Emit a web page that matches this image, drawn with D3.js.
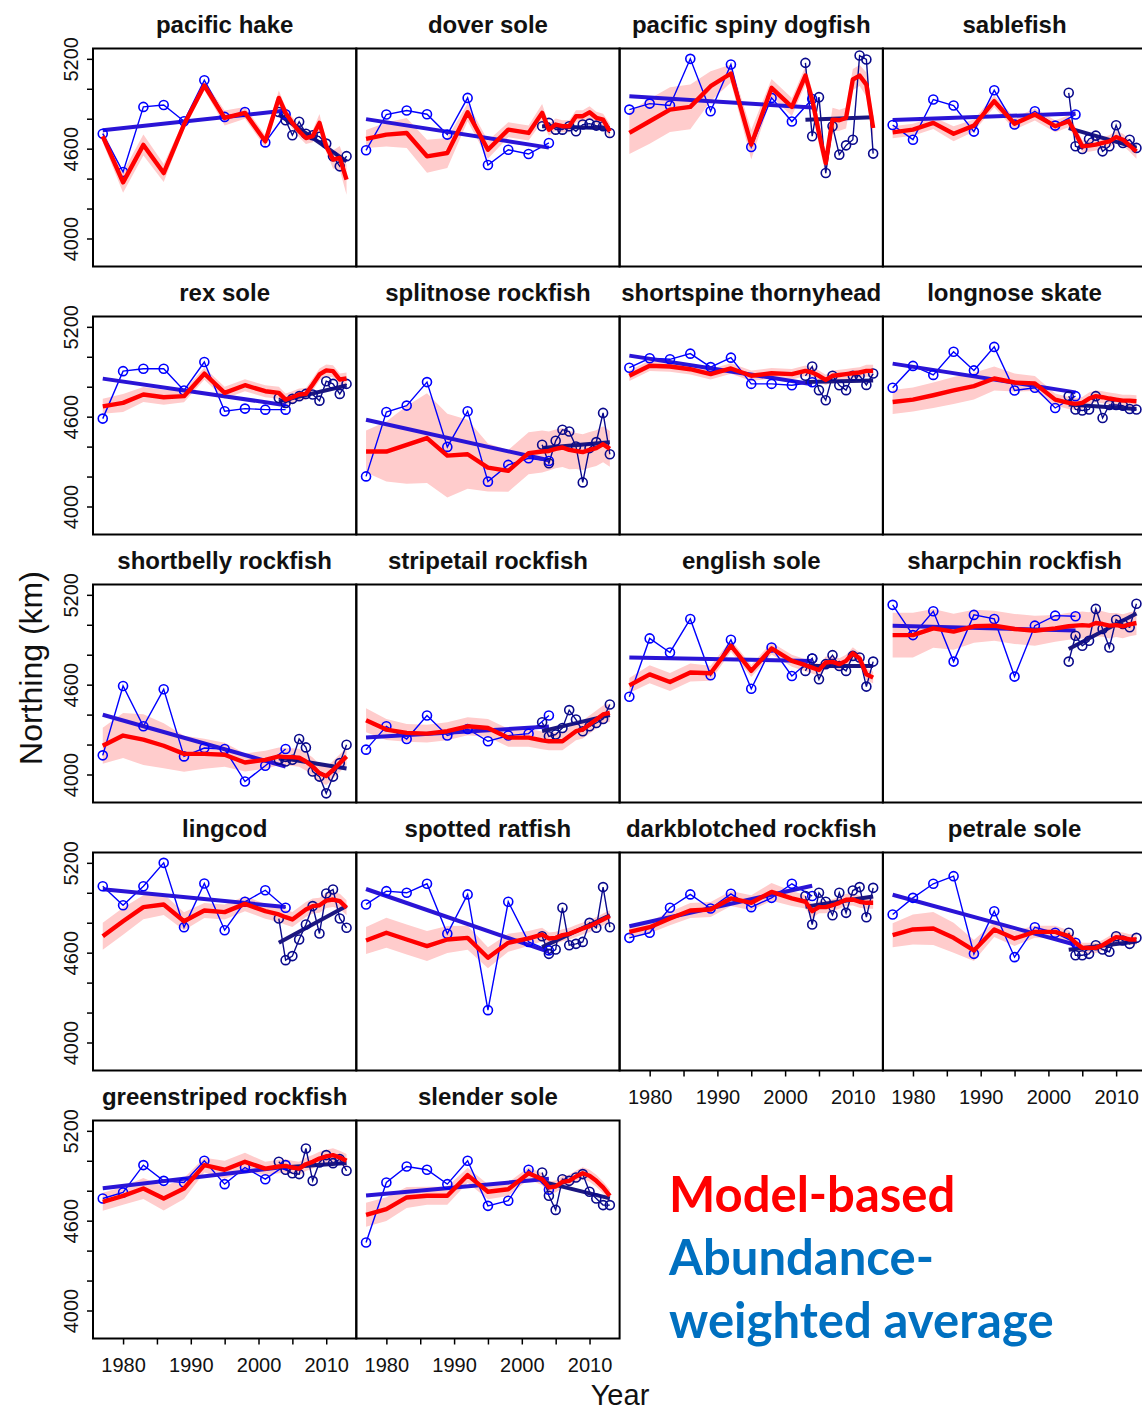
<!DOCTYPE html>
<html>
<head>
<meta charset="utf-8">
<script src="https://cdnjs.cloudflare.com/ajax/libs/d3/7.8.5/d3.min.js"></script>
<style>
  body { margin: 0; background: #fff; }
  svg { display: block; }
</style>
</head>
<body>
<svg id="chart" width="1142" height="1411"></svg>
<script>
// Species shown, one panel each (row-major, 4 per row)
const species = [
  "pacific hake", "dover sole", "pacific spiny dogfish", "sablefish",
  "rex sole", "splitnose rockfish", "shortspine thornyhead", "longnose skate",
  "shortbelly rockfish", "stripetail rockfish", "english sole", "sharpchin rockfish",
  "lingcod", "spotted ratfish", "darkblotched rockfish", "petrale sole",
  "greenstriped rockfish", "slender sole"
];

// Survey years
const triennialYears = [1977, 1980, 1983, 1986, 1989, 1992, 1995, 1998, 2001, 2004];
const annualYears = [2003, 2004, 2005, 2006, 2007, 2008, 2009, 2010, 2011, 2012, 2013];
const modelYears = [1977, 1980, 1983, 1986, 1989, 1992, 1995, 1998, 2001,
                    2003, 2004, 2005, 2006, 2007, 2008, 2009, 2010, 2011, 2012, 2013];

// Abundance-weighted average northing (km), triennial survey
const triennialNorthing = [
  [4700, 4444, 4879, 4892, 4783, 5057, 4812, 4845, 4642, 4830],
  [4589, 4828, 4855, 4830, 4694, 4939, 4491, 4593, 4564, 4638],
  [4861, 4901, 4888, 5200, 4850, 5162, 4611, 4939, 4781, 4932],
  [4758, 4660, 4928, 4888, 4714, 4990, 4761, 4850, 4754, 4828],
  [4587, 4904, 4920, 4920, 4775, 4965, 4636, 4654, 4647, 4647],
  [4201, 4631, 4674, 4831, 4398, 4636, 4166, 4278, 4322, 4304],
  [4927, 4990, 4983, 5021, 4931, 4994, 4819, 4819, 4810, 4830],
  [4793, 4939, 4879, 5034, 4909, 5066, 4775, 4793, 4658, 4737],
  [4128, 4591, 4322, 4569, 4121, 4177, 4170, 3953, 4058, 4170],
  [4166, 4322, 4237, 4394, 4260, 4304, 4222, 4260, 4273, 4394],
  [4519, 4909, 4815, 5039, 4663, 4900, 4573, 4848, 4658, 4775],
  [5133, 4931, 5090, 4754, 5066, 5039, 4654, 4994, 5061, 5057],
  [5044, 4917, 5044, 5200, 4770, 5062, 4750, 4940, 5017, 4900],
  [4922, 5011, 5000, 5060, 4726, 4989, 4216, 4940, 4672, 4615],
  [4699, 4733, 4900, 4989, 4895, 4993, 4904, 4966, 5060, 4978],
  [4855, 4966, 5060, 5111, 4592, 4877, 4570, 4770, 4733, 4666],
  [4748, 4788, 4971, 4866, 4855, 5000, 4844, 4955, 4877, 4971],
  [4454, 4855, 4962, 4940, 4844, 5000, 4699, 4733, 4940, 4806]
];

// Abundance-weighted average northing (km), annual survey
const annualNorthing = [
  [4845, 4790, 4690, 4780, 4700, 4690, 4680, 4634, 4549, 4482, 4550],
  [4750, 4772, 4727, 4727, 4750, 4716, 4761, 4767, 4754, 4750, 4705],
  [5173, 4683, 4944, 4437, 4750, 4560, 4622, 4660, 5222, 5196, 4567],
  [4973, 4616, 4598, 4665, 4687, 4582, 4616, 4756, 4638, 4660, 4605],
  [4725, 4692, 4719, 4737, 4752, 4748, 4707, 4837, 4819, 4752, 4819],
  [4412, 4289, 4439, 4513, 4501, 4401, 4161, 4390, 4430, 4625, 4349],
  [4873, 4935, 4777, 4710, 4873, 4810, 4777, 4873, 4873, 4812, 4888],
  [4737, 4648, 4641, 4648, 4737, 4591, 4678, 4678, 4673, 4651, 4648],
  [4099, 4087, 4099, 4237, 4181, 4020, 3986, 3874, 3986, 4076, 4199],
  [4349, 4255, 4267, 4311, 4430, 4367, 4289, 4322, 4344, 4371, 4468],
  [4692, 4775, 4636, 4737, 4797, 4725, 4692, 4792, 4781, 4587, 4754],
  [4754, 4927, 4860, 4893, 5106, 4972, 4848, 5034, 5005, 4983, 5140],
  [4828, 4550, 4577, 4688, 4788, 4911, 4728, 4995, 5022, 4828, 4766],
  [4710, 4592, 4621, 4900, 4650, 4659, 4672, 4799, 4766, 5038, 4770],
  [4978, 4788, 5000, 4940, 4850, 5000, 4866, 5015, 5038, 4837, 5033],
  [4733, 4583, 4583, 4592, 4650, 4621, 4606, 4710, 4681, 4659, 4699],
  [4993, 4940, 4917, 4911, 5082, 4866, 4989, 5038, 4984, 5011, 4933],
  [4922, 4766, 4672, 4877, 4866, 4888, 4911, 4793, 4748, 4704, 4704]
];

// Model-based northing estimate (km)
const modelNorthing = [
  [4683, 4375, 4625, 4437, 4761, 5022, 4805, 4839, 4649, 4939, 4839, 4772, 4716, 4671, 4683, 4772, 4616, 4527, 4538, 4393],
  [4665, 4694, 4705, 4549, 4571, 4843, 4593, 4727, 4705, 4839, 4727, 4761, 4750, 4750, 4817, 4817, 4843, 4806, 4794, 4716],
  [4705, 4783, 4861, 4879, 5017, 5102, 4627, 5006, 4879, 5088, 4928, 4705, 4504, 4794, 4790, 4805, 5062, 5088, 5028, 4738],
  [4709, 4727, 4772, 4700, 4754, 4917, 4767, 4828, 4750, 4783, 4705, 4616, 4620, 4627, 4638, 4649, 4678, 4660, 4620, 4582],
  [4669, 4692, 4748, 4730, 4737, 4887, 4759, 4810, 4770, 4759, 4714, 4730, 4748, 4752, 4815, 4882, 4909, 4904, 4848, 4855],
  [4367, 4367, 4412, 4457, 4340, 4349, 4260, 4238, 4356, 4367, 4371, 4385, 4394, 4378, 4371, 4363, 4378, 4390, 4416, 4385],
  [4873, 4940, 4935, 4917, 4884, 4922, 4873, 4890, 4884, 4906, 4895, 4873, 4845, 4873, 4878, 4884, 4890, 4895, 4906, 4906],
  [4698, 4714, 4743, 4775, 4804, 4855, 4828, 4822, 4714, 4692, 4685, 4692, 4721, 4737, 4730, 4721, 4714, 4707, 4707, 4703],
  [4192, 4260, 4233, 4192, 4138, 4138, 4132, 4080, 4098, 4121, 4116, 4116, 4112, 4087, 4053, 4008, 3990, 4030, 4076, 4121],
  [4363, 4300, 4278, 4273, 4289, 4322, 4311, 4246, 4246, 4228, 4222, 4222, 4222, 4255, 4289, 4300, 4334, 4367, 4401, 4412],
  [4595, 4669, 4618, 4681, 4676, 4860, 4692, 4842, 4759, 4730, 4714, 4698, 4748, 4752, 4737, 4759, 4810, 4775, 4669, 4647],
  [4931, 4931, 4976, 4954, 4990, 4994, 4972, 4960, 4976, 4990, 4994, 4998, 4994, 5012, 5005, 4994, 4998, 4990, 5003, 5012],
  [4710, 4810, 4904, 4922, 4810, 4882, 4871, 4926, 4877, 4855, 4837, 4822, 4855, 4888, 4911, 4917, 4948, 4955, 4944, 4900],
  [4681, 4733, 4688, 4644, 4688, 4699, 4566, 4666, 4695, 4721, 4695, 4699, 4717, 4726, 4744, 4761, 4777, 4799, 4822, 4844],
  [4739, 4770, 4828, 4882, 4888, 4962, 4933, 5006, 4962, 4940, 4877, 4904, 4904, 4917, 4933, 4953, 4955, 4940, 4933, 4933],
  [4717, 4755, 4761, 4699, 4615, 4755, 4695, 4739, 4739, 4710, 4666, 4632, 4632, 4632, 4650, 4677, 4704, 4699, 4688, 4688],
  [4726, 4766, 4815, 4748, 4815, 4971, 4940, 4993, 4948, 4962, 4966, 4955, 4948, 4977, 4993, 5015, 5029, 5038, 5022, 5000],
  [4639, 4677, 4755, 4766, 4766, 4904, 4793, 4810, 4917, 4877, 4822, 4828, 4859, 4866, 4895, 4917, 4900, 4866, 4822, 4766]
];

// Half-width of the model-based interval (km)
const modelSE = [
  [40, 70, 70, 60, 30, 30, 50, 40, 40, 50, 40, 40, 40, 40, 40, 60, 40, 60, 80, 100],
  [60, 80, 100, 110, 100, 60, 60, 50, 50, 60, 40, 40, 40, 40, 40, 40, 40, 40, 40, 50],
  [140, 150, 150, 150, 100, 60, 100, 60, 60, 60, 60, 80, 80, 80, 70, 70, 70, 70, 80, 80],
  [40, 40, 40, 50, 40, 40, 40, 40, 40, 40, 40, 40, 40, 40, 40, 40, 40, 40, 40, 50],
  [50, 60, 50, 50, 40, 40, 40, 40, 40, 40, 40, 40, 40, 40, 40, 40, 40, 40, 40, 40],
  [140, 200, 260, 300, 280, 230, 160, 140, 140, 140, 130, 130, 130, 130, 120, 120, 120, 120, 120, 120],
  [35, 35, 35, 35, 35, 35, 35, 35, 35, 35, 35, 35, 35, 35, 35, 35, 35, 35, 40, 40],
  [80, 80, 85, 90, 90, 80, 60, 50, 40, 40, 40, 40, 40, 40, 40, 40, 40, 40, 40, 40],
  [120, 150, 170, 150, 120, 100, 80, 60, 60, 60, 60, 60, 60, 60, 60, 60, 60, 60, 60, 60],
  [80, 70, 60, 60, 60, 60, 60, 60, 60, 60, 60, 60, 60, 60, 60, 60, 60, 60, 60, 60],
  [50, 60, 60, 60, 50, 40, 40, 40, 40, 40, 40, 40, 40, 40, 40, 40, 40, 40, 40, 40],
  [150, 150, 130, 120, 110, 100, 100, 100, 90, 90, 90, 90, 90, 90, 85, 85, 80, 80, 80, 80],
  [90, 90, 80, 70, 60, 50, 50, 50, 50, 50, 50, 50, 50, 50, 50, 50, 50, 50, 50, 50],
  [90, 100, 100, 100, 90, 80, 70, 60, 50, 45, 40, 40, 40, 40, 40, 40, 40, 40, 40, 40],
  [40, 40, 45, 50, 50, 50, 50, 60, 50, 45, 45, 40, 40, 40, 40, 40, 40, 40, 40, 40],
  [80, 100, 110, 100, 70, 50, 50, 40, 40, 40, 35, 35, 35, 35, 35, 35, 35, 35, 35, 35],
  [60, 60, 70, 80, 70, 50, 60, 60, 45, 45, 45, 45, 45, 45, 45, 45, 45, 45, 45, 45],
  [80, 80, 70, 60, 60, 50, 50, 45, 40, 40, 40, 40, 40, 40, 40, 40, 40, 40, 40, 40]
];

// Axis ticks and labels
const xTickYears = [1980, 1985, 1990, 1995, 2000, 2005, 2010];
const xLabelYears = [1980, 1990, 2000, 2010];
const yTickValues = [4000, 4200, 4400, 4600, 4800, 5000, 5200];
const yLabelValues = [4000, 4600, 5200];

const legendLines = [
  { text: "Model-based", color: "#ff0000" },
  { text: "Abundance-", color: "#0070c0" },
  { text: "weighted average", color: "#0070c0" }
];

// ---- layout ----
const svg = d3.select("#chart");
const PW = 263.3, PH = 218;
const LEFT = 93, TOP = 48.5, ROW_PITCH = 268;
const FONT = "'Liberation Sans', Arial, Helvetica, sans-serif";

const x = d3.scaleLinear().domain([1975.56, 2014.44]).range([0, PW]);
const y = d3.scaleLinear().domain([3813, 5269]).range([PH, 0]);

const COL_TRI = "#0000ff";
const COL_ANN = "#0a0a8c";
const COL_TRI_TREND = "#2a14d6";
const COL_ANN_TREND = "#1b1680";
const COL_MODEL = "#ff0000";
const COL_BAND = "#ffcccc";

// ordinary least squares fit
function linFit(xs, ys) {
  const mx = d3.mean(xs), my = d3.mean(ys);
  let sxy = 0, sxx = 0;
  xs.forEach((v, k) => { sxy += (v - mx) * (ys[k] - my); sxx += (v - mx) * (v - mx); });
  const b = sxy / sxx;
  return xv => my + b * (xv - mx);
}

const line = d3.line().x(d => x(d[0])).y(d => y(d[1]));
const band = d3.area().x(d => x(d.yr)).y0(d => y(d.lo)).y1(d => y(d.hi));

species.forEach((name, i) => {
  const col = i % 4, row = Math.floor(i / 4);
  const g = svg.append("g")
    .attr("transform", `translate(${LEFT + col * PW},${TOP + row * ROW_PITCH})`);

  g.append("defs").append("clipPath").attr("id", "clip" + i)
    .append("rect").attr("width", PW).attr("height", PH);
  const plot = g.append("g").attr("clip-path", `url(#clip${i})`);

  // model-based interval
  const bandData = modelYears.map((yr, k) => ({
    yr, lo: modelNorthing[i][k] - modelSE[i][k], hi: modelNorthing[i][k] + modelSE[i][k]
  }));
  plot.append("path").attr("d", band(bandData)).attr("fill", COL_BAND);

  const triPts = triennialYears.map((yr, k) => [yr, triennialNorthing[i][k]]);
  const annPts = annualYears.map((yr, k) => [yr, annualNorthing[i][k]]);
  const fTri = linFit(triennialYears, triennialNorthing[i]);
  const fAnn = linFit(annualYears, annualNorthing[i]);

  // observed series
  plot.append("path").attr("d", line(triPts))
    .attr("fill", "none").attr("stroke", COL_TRI).attr("stroke-width", 1.4);
  plot.append("path").attr("d", line(annPts))
    .attr("fill", "none").attr("stroke", COL_ANN).attr("stroke-width", 1.4);

  // linear trend for each survey
  plot.append("path")
    .attr("d", line([[1977, fTri(1977)], [2004, fTri(2004)]]))
    .attr("stroke", COL_TRI_TREND).attr("stroke-width", 4).attr("fill", "none");
  plot.append("path")
    .attr("d", line([[2003, fAnn(2003)], [2013, fAnn(2013)]]))
    .attr("stroke", COL_ANN_TREND).attr("stroke-width", 4).attr("fill", "none");

  plot.selectAll("circle.tri").data(triPts).join("circle").attr("class", "tri")
    .attr("cx", d => x(d[0])).attr("cy", d => y(d[1])).attr("r", 4.5)
    .attr("fill", "none").attr("stroke", COL_TRI).attr("stroke-width", 1.6);
  plot.selectAll("circle.ann").data(annPts).join("circle").attr("class", "ann")
    .attr("cx", d => x(d[0])).attr("cy", d => y(d[1])).attr("r", 4.5)
    .attr("fill", "none").attr("stroke", COL_ANN).attr("stroke-width", 1.6);

  // model-based estimate
  plot.append("path")
    .attr("d", line(modelYears.map((yr, k) => [yr, modelNorthing[i][k]])))
    .attr("fill", "none").attr("stroke", COL_MODEL).attr("stroke-width", 4.4)
    .attr("stroke-linejoin", "round");

  // frame
  g.append("rect").attr("width", PW).attr("height", PH)
    .attr("fill", "none").attr("stroke", "#000").attr("stroke-width", 2);

  // title
  g.append("text").attr("x", PW / 2).attr("y", -16)
    .attr("text-anchor", "middle").attr("font-family", FONT)
    .attr("font-weight", "bold").attr("font-size", 24).attr("fill", "#111")
    .text(name);

  // y axis on the first column
  if (col === 0) {
    const ay = g.append("g").call(
      d3.axisLeft(y).tickValues(yTickValues).tickSize(6)
        .tickFormat(d => yLabelValues.includes(d) ? d : ""));
    ay.select(".domain").remove();
    ay.selectAll("line").attr("stroke", "#000").attr("stroke-width", 1.5);
    ay.selectAll("text")
      .attr("x", 0).attr("y", -15).attr("dy", 0)
      .attr("transform", "rotate(-90)")
      .attr("text-anchor", "middle")
      .attr("font-family", FONT).attr("font-size", 20).attr("fill", "#111");
  }

  // x axis under the lowest panel of each column
  const lowest = (col < 2 && row === 4) || (col >= 2 && row === 3);
  if (lowest) {
    const ax = g.append("g").attr("transform", `translate(0,${PH})`).call(
      d3.axisBottom(x).tickValues(xTickYears).tickSize(6)
        .tickFormat(d => xLabelYears.includes(d) ? d : ""));
    ax.select(".domain").remove();
    ax.selectAll("line").attr("stroke", "#000").attr("stroke-width", 1.5);
    ax.selectAll("text")
      .attr("y", 33.5).attr("dy", 0)
      .attr("font-family", FONT).attr("font-size", 20).attr("fill", "#111");
  }
});

// axis titles
svg.append("text")
  .attr("transform", "translate(42,668) rotate(-90)")
  .attr("text-anchor", "middle").attr("font-family", FONT)
  .attr("font-size", 32).attr("fill", "#111")
  .text("Northing (km)");

svg.append("text")
  .attr("x", 620).attr("y", 1405)
  .attr("text-anchor", "middle").attr("font-family", FONT)
  .attr("font-size", 29).attr("fill", "#111")
  .text("Year");

// legend text
svg.append("g").selectAll("text").data(legendLines).join("text")
  .attr("x", 669).attr("y", (d, k) => 1212 + k * 63)
  .attr("font-family", "Lato, 'Open Sans', sans-serif")
  .attr("font-weight", "bold").attr("font-size", 49)
  .attr("fill", d => d.color)
  .text(d => d.text);
</script>
</body>
</html>
